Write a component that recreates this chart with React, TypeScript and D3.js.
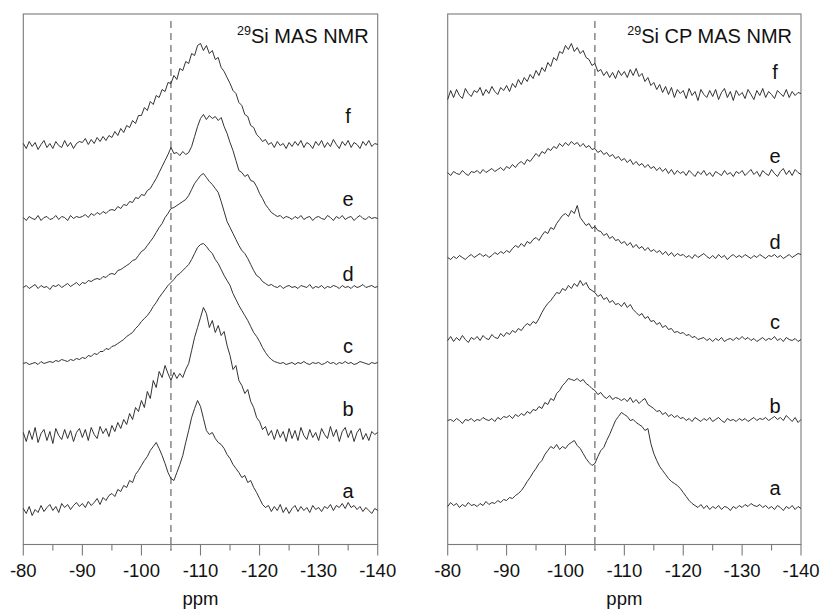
import React from "react";
import * as d3 from "d3";

// ppm grid: -80 … -140, step 0.5 ppm (121 samples)
const PPM_START = -80;
const PPM_STEP = -0.5;
const N = 121;

const sampleLabels = ["a", "b", "c", "d", "e", "f"];
const tickValues = [-80, -90, -100, -110, -120, -130, -140];
const minorTicks = [-85, -95, -105, -115, -125, -135];
const refLine = -105;

// ---------- Left panel: 29Si MAS NMR (heights above each trace's baseline) ----------
const masA = [
  2,-3,4,-5,1,-2,5,-1,3,6,0,4,-2,7,3,6,1,5,8,4,
  7,3,9,5,8,12,6,13,10,15,
  17,14,21,19,25,23,30,28,36,40,
  45,50,54,60,64,68,62,55,47,38,
  32,30,38,46,55,68,80,93,102,110,
  104,92,80,76,78,72,68,66,62,56,
  52,46,42,38,33,35,28,30,23,18,
  12,6,3,5,-1,4,0,6,-2,3,
  -3,2,5,-1,4,0,3,-2,5,1,
  3,-1,4,2,6,0,5,3,7,2,
  8,3,5,1,4,-1,3,0,-3,2,
  0,
];
const masB = [
  3,-6,5,-4,8,-7,2,6,-5,4,-8,7,0,-4,6,-3,5,-6,3,7,
  -2,6,-5,8,1,-3,9,2,7,-1,
  10,4,13,7,16,11,22,16,28,24,
  35,28,44,37,55,48,64,58,70,62,
  55,63,57,62,58,66,72,85,98,108,
  118,128,122,108,115,103,110,100,104,90,
  80,66,70,55,50,42,46,34,28,18,
  14,6,9,0,5,-4,6,-2,4,-6,
  7,-3,5,-5,8,0,-4,6,-2,3,
  -5,7,1,-3,9,-1,6,-6,4,8,
  -2,5,-6,3,7,-4,2,-5,4,1,
  3,
];
const masC = [
  0,1,-1,0,1,-1,2,0,1,2,1,3,2,4,3,2,4,3,5,4,
  6,5,8,7,10,9,12,12,15,14,
  17,18,20,22,24,27,29,31,35,38,
  42,45,48,52,57,61,66,70,74,78,
  81,84,88,90,93,96,99,104,110,116,
  119,120,117,113,110,104,100,94,88,83,
  78,70,64,58,53,48,43,37,31,27,
  22,16,11,7,4,2,1,0,1,-1,
  0,1,-1,1,0,2,0,-1,1,0,
  1,-1,0,2,0,1,-1,1,0,2,
  0,1,-1,0,2,1,0,-1,1,0,
  1,
];
const masD = [
  0,2,-1,1,3,-1,2,0,1,-2,2,1,3,0,2,4,1,3,5,2,
  5,4,7,6,8,9,8,11,10,13,
  14,13,17,18,20,22,24,27,28,32,
  36,38,42,46,50,55,60,64,70,74,
  79,80,82,84,86,88,92,98,104,108,
  112,114,110,106,103,99,95,86,76,66,
  60,54,48,42,37,34,29,23,17,12,
  10,6,4,2,3,1,0,2,-1,1,
  2,0,1,-1,2,1,0,3,-1,1,
  0,2,-1,1,0,2,1,-1,2,0,
  1,-1,2,0,1,3,0,1,2,0,
  1,
];
const masE = [
  1,-2,2,0,-1,3,-2,1,2,-1,0,3,-1,2,1,-2,3,0,2,1,
  2,4,1,5,3,6,4,7,5,8,
  9,8,12,10,14,13,17,16,21,20,
  24,23,28,30,35,40,46,52,58,64,
  71,65,66,63,67,64,66,72,82,92,
  100,104,99,103,100,102,98,101,92,85,
  76,68,58,48,46,42,44,38,37,32,
  25,20,14,10,6,4,2,3,0,2,
  1,-1,2,0,3,-1,1,2,-2,1,
  2,0,-1,3,1,-2,2,0,3,-1,
  1,2,-2,1,3,0,-1,2,0,1,
  0,
];
const masF = [
  2,-3,4,-1,3,-4,1,5,-2,2,-3,4,0,-2,5,-1,3,-3,2,4,
  3,7,1,6,2,8,4,9,5,10,
  8,14,10,17,13,20,18,25,22,30,
  30,38,35,44,41,50,48,56,54,63,
  62,70,66,77,75,84,82,92,90,100,
  102,95,100,92,95,86,88,78,74,68,
  62,55,52,43,40,31,29,20,18,11,
  8,4,6,1,3,-2,4,0,2,-3,
  3,-1,4,0,5,-2,3,1,-3,4,
  0,5,-2,3,-1,6,1,-3,4,0,
  5,-2,3,1,-3,4,0,5,-1,2,
  1,
];

// ---------- Right panel: 29Si CP MAS NMR ----------
const cpA = [
  2,6,3,5,1,4,2,6,3,4,2,5,3,7,4,6,5,8,6,9,
  8,11,10,13,15,18,22,27,31,36,
  40,45,48,54,58,62,60,64,59,62,
  60,64,66,68,63,60,55,50,46,43,
  45,52,58,61,68,74,81,88,92,96,
  94,92,88,89,86,84,82,78,80,65,
  55,48,42,38,34,30,27,25,23,20,
  16,12,8,5,3,1,4,0,3,-1,
  2,0,3,-1,2,1,-2,2,0,3,
  1,4,2,5,3,2,4,1,3,0,
  2,-1,3,1,-2,2,0,3,-1,2,
  0,
];
const cpB = [
  0,1,-1,2,0,-3,1,0,2,-1,1,0,3,1,0,2,-1,3,1,4,
  3,5,2,6,4,7,5,9,7,11,
  10,14,12,18,16,22,20,27,30,35,
  38,42,41,40,42,39,41,37,35,32,
  30,26,28,24,22,25,21,23,22,20,
  22,19,23,18,21,17,20,22,16,14,
  12,9,10,6,8,4,6,3,5,2,
  3,0,2,-1,3,1,-1,2,0,3,
  -1,1,3,0,-2,2,0,1,-1,2,
  0,2,-1,1,3,0,2,1,3,0,
  2,4,1,3,0,5,2,-1,3,-2,
  1,
];
const cpC = [
  0,4,-1,3,0,5,1,-2,3,1,4,0,5,2,1,6,3,2,7,4,
  8,6,10,8,12,10,14,17,15,19,
  17,22,28,33,37,40,44,48,47,52,
  50,55,52,57,54,60,55,58,52,50,
  48,44,46,41,43,38,40,36,37,34,
  38,33,36,31,28,25,27,22,24,19,
  20,16,18,13,15,11,12,8,9,7,
  8,5,6,3,4,1,2,3,0,2,
  -1,2,0,3,-1,1,2,0,3,1,
  4,1,3,0,2,-1,1,3,0,2,
  1,4,0,2,-1,3,1,0,2,-1,
  1,
];
const cpD = [
  0,-2,1,-1,2,0,-2,1,3,0,2,4,1,3,0,2,5,3,6,4,
  7,5,9,12,10,14,11,16,14,18,
  20,17,22,26,24,30,28,34,38,42,
  44,41,47,44,52,40,36,32,34,29,
  31,27,26,22,24,19,21,17,18,14,
  16,12,15,10,13,9,11,7,10,6,
  8,5,7,3,6,2,5,1,4,2,
  3,0,2,-1,3,0,2,4,1,-1,
  2,-1,3,0,2,-2,1,3,0,2,
  0,3,1,-1,2,0,3,1,-1,2,
  1,3,0,2,-1,1,3,0,2,4,
  3,
];
const cpE = [
  1,-2,2,0,-1,3,0,-2,2,1,3,0,4,1,3,5,2,4,6,3,
  7,5,9,6,10,12,9,14,12,16,
  20,17,22,20,25,23,27,25,30,27,
  31,28,32,29,31,27,30,26,28,24,
  25,21,23,19,21,17,19,15,17,13,
  15,11,14,9,12,8,10,6,9,5,
  7,3,6,2,5,0,4,-1,3,0,
  2,-2,3,0,-3,2,-1,3,-2,1,
  -3,2,0,-2,3,-1,1,-3,2,0,
  3,-2,1,4,-1,2,-3,3,0,-2,
  4,0,-3,2,5,-1,3,-2,4,1,
  -1,
];
const cpF = [
  -4,5,-2,6,0,-3,7,2,-1,5,3,8,0,6,2,9,4,1,8,5,
  10,4,12,8,16,11,18,14,21,17,
  25,20,28,24,33,29,38,35,44,42,
  50,46,52,44,48,42,45,38,36,30,
  32,24,26,20,24,18,23,17,25,20,
  24,18,26,20,27,19,22,14,18,10,
  13,6,11,3,9,1,8,-2,6,2,
  5,-3,7,0,4,-5,6,1,-2,5,
  -1,6,-4,3,7,-2,4,-5,5,0,
  3,-3,6,1,-4,5,0,7,-2,4,
  1,-3,5,2,-1,6,-2,4,0,3,
  2,
];

// stacking offsets (same units as intensities) for a..f
const masOffsets = [34, 109, 181, 257, 326, 399];
const cpOffsets = [36, 124, 204, 287, 371, 449];
// heights of the a..f labels above each trace
const masLabelHeights = [47, 129, 192, 264, 339, 422];
const cpLabelHeights = [50, 132, 216, 296, 382, 466];

const masSeries = [masA, masB, masC, masD, masE, masF];
const cpSeries = [cpA, cpB, cpC, cpD, cpE, cpF];

const FONT = "'Liberation Sans', Arial, Helvetica, sans-serif";

type PanelProps = {
  x0: number;
  x1: number;
  series: number[][];
  offsets: number[];
  labelHeights: number[];
  labelX: number;
  title: string;
};

const TOP = 14;
const BOTTOM = 544.5;

function Panel({ x0, x1, series, offsets, labelHeights, labelX, title }: PanelProps) {
  const x = d3.scaleLinear().domain([-80, -140]).range([x0, x1]);
  const y = d3.scaleLinear().domain([0, BOTTOM - TOP]).range([BOTTOM, TOP]);
  const ppm = d3.range(N).map((i) => PPM_START + PPM_STEP * i);
  const axisColor = "#7a7a7a";

  return (
    <g>
      {/* frame */}
      <rect x={x0} y={TOP} width={x1 - x0} height={BOTTOM - TOP} fill="none" stroke={axisColor} strokeWidth={1.1} />
      {/* reference dashed line */}
      <line x1={x(refLine)} x2={x(refLine)} y1={TOP + 7} y2={BOTTOM + 6} stroke="#333" strokeWidth={0.9} strokeDasharray="7,5" />
      {/* ticks */}
      {tickValues.map((t) => (
        <line key={"M" + t} x1={x(t)} x2={x(t)} y1={BOTTOM} y2={BOTTOM + 11} stroke={axisColor} strokeWidth={1.1} />
      ))}
      {minorTicks.map((t) => (
        <line key={"m" + t} x1={x(t)} x2={x(t)} y1={BOTTOM} y2={BOTTOM + 6} stroke={axisColor} strokeWidth={1.1} />
      ))}
      {tickValues.map((t) => (
        <text key={"l" + t} x={x(t)} y={577} textAnchor="middle" fontFamily={FONT} fontSize={18.5} fill="#111">
          {t}
        </text>
      ))}
      <text x={(x0 + x1) / 2} y={605} textAnchor="middle" fontFamily={FONT} fontSize={18.5} fill="#111">
        ppm
      </text>
      {/* traces */}
      {series.map((vals, k) => {
        const line = d3
          .line<number>()
          .x((_, i) => x(ppm[i]))
          .y((v) => y(v + offsets[k]));
        return <path key={"s" + k} d={line(vals) || ""} fill="none" stroke="#1c1c1c" strokeWidth={0.9} strokeLinejoin="round" />;
      })}
      {/* sample letters */}
      {sampleLabels.map((lab, k) => (
        <text key={"t" + lab} x={labelX} y={y(labelHeights[k])} textAnchor="middle" fontFamily={FONT} fontSize={20} fill="#111">
          {lab}
        </text>
      ))}
      {/* title */}
      <text x={x1 - 9} y={43} textAnchor="end" fontFamily={FONT} fontSize={20} fill="#111">
        <tspan fontSize={12.5} dy={-8}>29</tspan>
        <tspan dy={8}>{title}</tspan>
      </text>
    </g>
  );
}

export default function App() {
  return (
    <svg
      width={823}
      height={613}
      viewBox="0 0 823 613"
      style={{ position: "absolute", left: 0, top: 0, background: "#fff" }}
    >
      <rect x={0} y={0} width={823} height={613} fill="#fff" />
      <Panel
        x0={23.3}
        x1={377.7}
        series={masSeries}
        offsets={masOffsets}
        labelHeights={masLabelHeights}
        labelX={348}
        title="Si MAS NMR"
      />
      <Panel
        x0={447.7}
        x1={801}
        series={cpSeries}
        offsets={cpOffsets}
        labelHeights={cpLabelHeights}
        labelX={775}
        title="Si CP MAS NMR"
      />
    </svg>
  );
}
